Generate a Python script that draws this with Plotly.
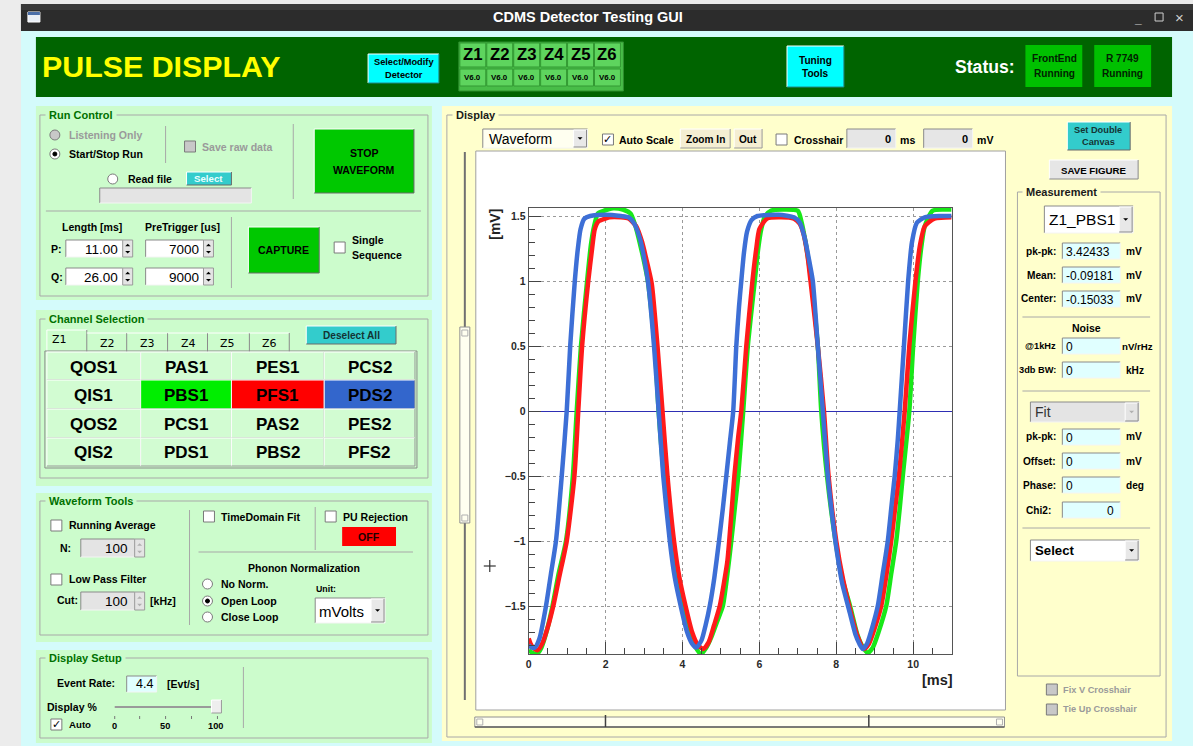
import plotly.graph_objects as go

W, H = 1193, 746

# ---------------- data ----------------
blue_t = [0.00, 0.08, 0.16, 0.28, 0.45, 0.58, 0.71, 0.86, 0.99, 1.08, 1.20, 1.28, 1.35, 1.45, 1.60, 2.00, 2.40, 2.60,
          2.75, 2.90, 3.00, 3.11, 3.26, 3.38, 3.50, 3.67, 3.80, 3.97, 4.12, 4.25, 4.36, 4.50, 4.60, 4.71, 4.83, 4.95,
          5.05, 5.14, 5.23, 5.32, 5.40, 5.47, 5.53, 5.60, 5.68, 5.80, 5.95, 6.50, 6.90, 7.05, 7.18, 7.30, 7.39, 7.52,
          7.65, 7.78, 7.90, 8.00, 8.15, 8.35, 8.50, 8.60, 8.69, 8.80, 8.95, 9.08, 9.20, 9.34, 9.44, 9.52, 9.60, 9.65,
          9.76, 9.87, 9.97, 10.10, 10.30, 10.70, 11.00]
blue_v = [-1.80, -1.82, -1.82, -1.75, -1.50, -1.25, -1.00, -0.50, 0.00, 0.50, 1.00, 1.25, 1.40, 1.48, 1.50, 1.51, 1.50,
          1.49, 1.44, 1.32, 1.18, 0.98, 0.50, 0.00, -0.50, -1.00, -1.28, -1.52, -1.70, -1.79, -1.82, -1.76, -1.65,
          -1.50, -1.28, -1.00, -0.75, -0.50, -0.25, 0.00, 0.50, 0.80, 1.00, 1.22, 1.38, 1.47, 1.50, 1.51, 1.49, 1.45,
          1.33, 1.15, 1.00, 0.50, 0.00, -0.50, -0.82, -1.05, -1.32, -1.55, -1.72, -1.79, -1.83, -1.79, -1.65, -1.50,
          -1.27, -1.00, -0.72, -0.50, -0.22, 0.00, 0.50, 1.00, 1.30, 1.45, 1.49, 1.50, 1.50]

red_t = [0.00, 0.05, 0.12, 0.23, 0.35, 0.50, 0.64, 0.80, 0.99, 1.19, 1.29, 1.39, 1.55, 1.65, 1.72, 1.82, 1.90, 2.10,
         2.40, 2.60, 2.80, 2.95, 3.05, 3.20, 3.35, 3.48, 3.61, 3.78, 3.92, 4.08, 4.25, 4.40, 4.54, 4.68, 4.82, 4.97,
         5.08, 5.17, 5.27, 5.35, 5.45, 5.53, 5.66, 5.82, 5.92, 6.00, 6.20, 6.50, 6.90, 7.05, 7.15, 7.25, 7.33, 7.52,
         7.68, 7.80, 8.00, 8.18, 8.38, 8.55, 8.72, 8.85, 9.00, 9.17, 9.30, 9.43, 9.53, 9.63, 9.78, 9.90, 10.06, 10.18,
         10.30, 10.55, 11.00]
red_v = [-1.75, -1.79, -1.82, -1.84, -1.79, -1.66, -1.50, -1.27, -1.00, -0.50, 0.00, 0.50, 1.00, 1.25, 1.40, 1.46, 1.47,
         1.49, 1.49, 1.48, 1.42, 1.30, 1.18, 0.98, 0.50, 0.00, -0.50, -1.00, -1.28, -1.50, -1.70, -1.80, -1.83, -1.78,
         -1.65, -1.50, -1.32, -1.15, -0.80, -0.50, -0.20, 0.00, 0.50, 1.00, 1.25, 1.40, 1.48, 1.49, 1.48, 1.44, 1.36,
         1.20, 1.00, 0.50, 0.00, -0.50, -1.00, -1.30, -1.55, -1.73, -1.83, -1.79, -1.67, -1.50, -1.27, -1.00, -0.75,
         -0.50, 0.00, 0.50, 1.00, 1.28, 1.42, 1.48, 1.49]

green_t = [0.00, 0.10, 0.21, 0.33, 0.48, 0.62, 0.78, 0.97, 1.15, 1.25, 1.36, 1.52, 1.62, 1.70, 1.80, 1.95, 2.20, 2.45,
           2.65, 2.78, 2.90, 3.00, 3.10, 3.28, 3.38, 3.52, 3.72, 3.87, 4.03, 4.18, 4.33, 4.48, 4.62, 4.75, 4.90, 5.05,
           5.17, 5.27, 5.37, 5.45, 5.58, 5.70, 5.88, 5.97, 6.05, 6.15, 6.30, 6.60, 7.00, 7.10, 7.20, 7.28, 7.35, 7.52,
           7.61, 7.76, 7.98, 8.15, 8.36, 8.55, 8.70, 8.82, 8.95, 9.10, 9.30, 9.43, 9.56, 9.65, 9.73, 9.90, 10.00, 10.12,
           10.22, 10.30, 10.50, 10.80, 11.00]
green_v = [-1.84, -1.86, -1.87, -1.82, -1.68, -1.50, -1.25, -1.00, -0.50, 0.00, 0.50, 1.00, 1.28, 1.42, 1.52, 1.54,
           1.56, 1.55, 1.52, 1.42, 1.28, 1.15, 1.00, 0.50, 0.00, -0.50, -1.00, -1.28, -1.50, -1.70, -1.81, -1.87, -1.82,
           -1.74, -1.62, -1.50, -1.25, -1.00, -0.72, -0.50, 0.00, 0.50, 1.00, 1.25, 1.40, 1.50, 1.54, 1.55, 1.54, 1.45,
           1.30, 1.15, 1.00, 0.50, 0.00, -0.50, -1.00, -1.28, -1.50, -1.72, -1.82, -1.86, -1.82, -1.70, -1.50, -1.25,
           -1.00, -0.75, -0.50, 0.00, 0.50, 1.00, 1.28, 1.42, 1.54, 1.55, 1.55]

x_ticks = [0, 2, 4, 6, 8, 10]
y_ticks = [-1.5, -1, -0.5, 0, 0.5, 1, 1.5]
x_range = [0, 11]
y_range = [-1.869, 1.5615]

channel_rows = [["QOS1", "PAS1", "PES1", "PCS2"],
                ["QIS1", "PBS1", "PFS1", "PDS2"],
                ["QOS2", "PCS1", "PAS2", "PES2"],
                ["QIS2", "PDS1", "PBS2", "PFS2"]]
channel_colors = {"PBS1": "#00ee00", "PFS1": "#ff0000", "PDS2": "#3366cc"}
zone_tabs = ["Z1", "Z2", "Z3", "Z4", "Z5", "Z6"]
measure_labels = ["pk-pk:", "Mean:", "Center:"]
measure_values = ["3.42433", "-0.09181", "-0.15033"]
fit_labels = ["pk-pk:", "Offset:", "Phase:"]
fit_values = ["0", "0", "0"]
fit_units = ["mV", "mV", "deg"]

# ---------------- helpers (pixel -> paper) ----------------
NARROW = "NARROW"
SANS = "Liberation Sans, Arial, sans-serif"
NARROW_SCALE = 0.88
CYAN_BG = "#d4fbfb"
GREEN_P = "#ccfccc"
YELLOW_P = "#ffffcc"
GROUPLINE = "#a8a8a8"

shapes, annos = [], []


def X(x):
    return x / W


def Y(y):
    return 1 - y / H


def rect(x0, y0, x1, y1, fill=None, line=None, lw=1):
    shapes.append(dict(type="rect", xref="paper", yref="paper", x0=X(x0), x1=X(x1), y0=Y(y1), y1=Y(y0),
                       fillcolor=fill if fill else "rgba(0,0,0,0)",
                       line=dict(color=line if line else "rgba(0,0,0,0)", width=lw if line else 0),
                       layer="below"))


def seg(x0, y0, x1, y1, color=GROUPLINE, lw=1):
    shapes.append(dict(type="line", xref="paper", yref="paper", x0=X(x0), x1=X(x1), y0=Y(y0), y1=Y(y1),
                       line=dict(color=color, width=lw), layer="below"))


def circ(cx, cy, r, fill, line="#808080"):
    shapes.append(dict(type="circle", xref="paper", yref="paper", x0=X(cx - r), x1=X(cx + r), y0=Y(cy + r),
                       y1=Y(cy - r), fillcolor=fill, line=dict(color=line, width=1), layer="below"))


def tri(cx, cy, s=3, up=False, color="#000000"):
    if up:
        p = f"M {X(cx - s)} {Y(cy + s / 2)} L {X(cx + s)} {Y(cy + s / 2)} L {X(cx)} {Y(cy - s / 2)} Z"
    else:
        p = f"M {X(cx - s)} {Y(cy - s / 2)} L {X(cx + s)} {Y(cy - s / 2)} L {X(cx)} {Y(cy + s / 2)} Z"
    shapes.append(dict(type="path", xref="paper", yref="paper", path=p, fillcolor=color,
                       line=dict(color=color, width=0), layer="below"))


def txt(x, y, s, size=12, color="#000000", anchor="left", bold=True, family=NARROW, bg=None, angle=0):
    if family == NARROW:
        family = SANS
        size = size * NARROW_SCALE
    a = dict(x=X(x), y=Y(y), xref="paper", yref="paper", text=s, showarrow=False, xanchor=anchor,
             yanchor="middle", textangle=angle, borderpad=0,
             font=dict(size=size, color=color, family=family, weight="bold" if bold else "normal"))
    if bg:
        a["bgcolor"] = bg
    annos.append(a)


def button(x0, y0, x1, y1, fill, edge_dark="#6a6a6a"):
    rect(x0, y0, x1, y1, fill)
    seg(x0, y0, x1, y0, "#ffffff", 1)
    seg(x0, y0, x0, y1, "#ffffff", 1)
    seg(x0, y1, x1, y1, edge_dark, 1)
    seg(x1, y0, x1, y1, edge_dark, 1)


def field(x0, y0, x1, y1, fill="#ffffff"):
    rect(x0, y0, x1, y1, fill)
    seg(x0, y0, x1, y0, "#8a8a8a", 1)
    seg(x0, y0, x0, y1, "#8a8a8a", 1)
    seg(x0, y1, x1, y1, "#f4f4f4", 1)
    seg(x1, y0, x1, y1, "#f4f4f4", 1)


def checkbox(x, y, checked=False, disabled=False):
    rect(x, y, x + 11, y + 11, "#c8c8c8" if disabled else "#ffffff", "#7a7a7a")
    if checked:
        txt(x + 5.5, y + 5.5, "✓", 11, "#000000", "center", True, "DejaVu Sans")


def radio(cx, cy, sel=False, disabled=False):
    circ(cx, cy, 5, "#c8c8c8" if disabled else "#ffffff", "#7a7a7a")
    if sel:
        circ(cx, cy, 2, "#000000", "#000000")


def spinner(x0, y0, x1, y1, color="#000000"):
    rect(x0, y0, x1, y1, "#e4e4e4", "#9a9a9a")
    cx = (x0 + x1) / 2
    tri(cx, y0 + (y1 - y0) * 0.3, 2.5, True, color)
    tri(cx, y0 + (y1 - y0) * 0.72, 2.5, False, color)


def group(x0, y0, x1, y1, title, bg):
    rect(x0, y0, x1, y1, None, GROUPLINE, 1)
    txt(x0 + 5, y0, " " + title + " ", 12.5, "#007000" if bg == GREEN_P else "#1a1a1a", "left", True, NARROW, bg)


def dropdown(x0, y0, x1, y1, fill, arrow_fill="#e8e8e8", arrow_col="#000000"):
    field(x0, y0, x1, y1, fill)
    button(x1 - 14, y0 + 1, x1 - 1, y1 - 1, arrow_fill, "#8a8a8a")
    tri(x1 - 7.5, (y0 + y1) / 2, 2.5, False, arrow_col)


# ---------------- window chrome ----------------
rect(0, 0, W, H, "#ececec")
rect(18, 4, W, 31, "#2c2c2c")
rect(18, 4, W, 10, "#3a3a3a")
rect(18, 31, W, H, CYAN_BG)
rect(25, 12, 37, 22, "#e8eef6", "#ffffff")
rect(25, 12, 37, 15, "#4a6ea8")
txt(586, 17, "CDMS Detector Testing GUI", 14.5, "#ffffff", "center", True, SANS)
txt(1138, 19, "_", 12, "#cfcfcf", "center", True, SANS)
rect(1155, 13, 1163, 21, None, "#cfcfcf", 1)
txt(1179, 17, "×", 15, "#cfcfcf", "center", False, SANS)

# ---------------- header ----------------
rect(33, 37, 1172, 97, "#006400")
txt(38, 67, "PULSE DISPLAY", 34.5, "#ffff00", "left", True, NARROW)
button(366, 54, 437, 83, "#00ffff", "#208a8a")
txt(402, 62, "Select/Modify", 10.5, "#000000", "center")
txt(402, 75, "Detector", 10.5, "#000000", "center")
rect(457, 42, 622, 91, "#48bd48", "#2f8f2f")
for i, z in enumerate(zone_tabs):
    x0 = 458 + 27 * i
    rect(x0, 43, x0 + 26, 67, "#5ed45e", "#339933")
    txt(x0 + 13, 55, z, 19, "#000000", "center", True, NARROW)
    rect(x0, 69, x0 + 26, 86, "#5ed45e", "#339933")
    txt(x0 + 13, 78, "V6.0", 9, "#000000", "center", True, NARROW)
button(786, 46, 843, 87, "#00ffff", "#208a8a")
txt(815, 60, "Tuning", 11.5, "#000000", "center")
txt(815, 74, "Tools", 11.5, "#000000", "center")
txt(1016, 67, "Status:", 20, "#ffffff", "right", True, NARROW)
rect(1025, 45, 1082, 87, "#00c000")
txt(1054, 59, "FrontEnd", 11.5, "#002200", "center")
txt(1054, 74, "Running", 11.5, "#002200", "center")
rect(1094, 45, 1151, 87, "#00c000")
txt(1122, 59, "R 7749", 11.5, "#002200", "center")
txt(1122, 74, "Running", 11.5, "#002200", "center")

# ---------------- Run Control ----------------
rect(33, 106, 430, 300, GREEN_P)
group(37, 115, 426, 296, "Run Control", GREEN_P)
radio(52, 135, False, True)
txt(65, 135, "Listening Only", 12, "#9a9a9a")
radio(52, 154, True)
txt(65, 154, "Start/Stop Run", 12)
seg(163, 126, 163, 163)
checkbox(182, 141, False, True)
txt(199, 147, "Save raw data", 12, "#9a9a9a")
seg(291, 124, 291, 199)
button(312, 129, 412, 193, "#00c800")
txt(362, 153, "STOP", 12, "#000000", "center")
txt(362, 170, "WAVEFORM", 12, "#000000", "center")
radio(110, 179)
txt(124, 179, "Read file", 12)
button(184, 172, 229, 185, "#33cccc")
txt(206, 178.5, "Select", 11, "#eaffff", "center")
field(97, 188, 249, 203, "#e4e4e4")
seg(43, 211, 419, 211)
txt(89, 227, "Length [ms]", 12, "#000000", "center")
txt(180, 227, "PreTrigger [us]", 12, "#000000", "center")
for yy, lab, v1, v2 in [(240, "P:", "11.00", "7000"), (268, "Q:", "26.00", "9000")]:
    txt(47, yy + 9, lab, 12)
    field(63, yy, 120, yy + 17)
    txt(116, yy + 9, v1, 13.5, "#000000", "right", False, SANS)
    spinner(120, yy, 130, yy + 17)
    field(143, yy, 201, yy + 17)
    txt(197, yy + 9, v2, 13.5, "#000000", "right", False, SANS)
    spinner(201, yy, 211, yy + 17)
seg(229, 217, 229, 288)
button(246, 227, 317, 273, "#00c800")
txt(281, 250, "CAPTURE", 12, "#000000", "center")
checkbox(332, 242)
txt(349, 240, "Single", 12)
txt(349, 255, "Sequence", 12)

# ---------------- Channel Selection ----------------
rect(33, 310, 430, 486, GREEN_P)
group(37, 319, 426, 478, "Channel Selection", GREEN_P)
tab_x = [44, 84, 124, 165, 205, 247, 287]
for i, z in enumerate(zone_tabs):
    x0, x1 = tab_x[i], tab_x[i + 1]
    if i == 0:
        rect(x0, 330, x1, 352, GREEN_P)
        seg(x0, 330, x1, 330, "#ffffff")
        seg(x0, 330, x0, 352, "#ffffff")
        seg(x1, 330, x1, 352, "#8a8a8a")
        txt(x0 + 4, 339, z, 11, "#000000", "left", False, "DejaVu Sans")
    else:
        seg(x0, 333, x1, 333, "#ffffff")
        seg(x1, 333, x1, 352, "#8a8a8a")
        txt(x0 + 12, 343, z, 11, "#000000", "left", False, "DejaVu Sans")
button(304, 326, 394, 344, "#33cccc")
txt(349, 335, "Deselect All", 11.5, "#143434", "center")
col_x = [44, 138, 229, 322, 413]
row_y = [352, 380, 409, 438, 466]
rect(42, 351, 415, 468, None, "#8a8a8a")
for r, row in enumerate(channel_rows):
    for c, name in enumerate(row):
        x0, x1, y0, y1 = col_x[c], col_x[c + 1], row_y[r], row_y[r + 1]
        button(x0, y0, x1, y1, channel_colors.get(name, "#d2fcd2"), "#9a9a9a")
        txt((x0 + x1) / 2, (y0 + y1) / 2 + 1, name, 17, "#000000", "center", True, SANS)

# ---------------- Waveform Tools ----------------
rect(33, 493, 430, 642, GREEN_P)
group(37, 501, 426, 635, "Waveform Tools", GREEN_P)
checkbox(48, 520)
txt(65, 525, "Running Average", 12)
txt(56, 548, "N:", 12)
field(78, 539, 132, 557, "#e4e4e4")
txt(126, 548, "100", 13.5, "#000000", "right", False, SANS)
spinner(132, 539, 142, 557, "#b0b0b0")
checkbox(48, 574)
txt(65, 579, "Low Pass Filter", 12)
txt(53, 600, "Cut:", 12)
field(78, 592, 132, 610, "#e4e4e4")
txt(126, 601, "100", 13.5, "#000000", "right", False, SANS)
spinner(132, 592, 142, 610, "#b0b0b0")
txt(146, 601, "[kHz]", 12)
seg(187, 510, 187, 625)
checkbox(201, 511)
txt(218, 517, "TimeDomain Fit", 12)
seg(313, 507, 313, 550)
checkbox(323, 511)
txt(340, 517, "PU Rejection", 12)
rect(340, 527, 394, 546, "#ff0000")
txt(367, 536.5, "OFF", 12, "#200000", "center")
seg(196, 552, 411, 552)
txt(302, 568, "Phonon Normalization", 12, "#000000", "center")
radio(205, 584)
txt(218, 584, "No Norm.", 12)
radio(205, 601, True)
txt(218, 601, "Open Loop", 12)
radio(205, 617)
txt(218, 617, "Close Loop", 12)
txt(313, 589, "Unit:", 10)
dropdown(313, 598, 383, 623, "#ffffff")
txt(316, 611, "mVolts", 15, "#000000", "left", False, SANS)

# ---------------- Display Setup ----------------
rect(33, 650, 430, 743, GREEN_P)
group(37, 658, 426, 738, "Display Setup", GREEN_P)
txt(53, 683, "Event Rate:", 12)
field(124, 676, 154, 692, "#e0ffff")
txt(151, 684, "4.4", 12.5, "#000000", "right", False, SANS)
txt(163, 684, "[Evt/s]", 12)
txt(43, 707, "Display %", 12)
seg(112, 707, 213, 707, "#9a9a9a", 2)
button(209, 700, 219, 713, "#eeeeee", "#9a9a9a")
for tx in [112, 137, 163, 189, 215]:
    seg(tx, 716, tx, 719, "#777777")
for tx, lab in [(112, "0"), (162, "50"), (213, "100")]:
    txt(tx, 726, lab, 10.5, "#000000", "center")
checkbox(48, 719, True)
txt(65, 724, "Auto", 11)
seg(241, 667, 241, 728)

# ---------------- Display panel ----------------
rect(440, 106, 1172, 741, YELLOW_P)
group(445, 115, 1166, 737, "Display", YELLOW_P)
dropdown(481, 129, 586, 148, "#fffff0")
txt(486, 139, "Waveform", 14, "#000000", "left", False, SANS)
checkbox(601, 134, True)
txt(617, 140, "Auto Scale", 12)
button(679, 129, 729, 148, "#f4eed2", "#9a9a9a")
txt(704, 139, "Zoom In", 11.5, "#000000", "center")
button(733, 129, 761, 148, "#f4eed2", "#9a9a9a")
txt(747, 139, "Out", 11.5, "#000000", "center")
checkbox(775, 134)
txt(792, 140, "Crosshair", 12)
field(846, 129, 895, 148, "#e6e6e6")
txt(891, 139, "0", 12.5, "#000000", "right")
txt(898, 140, "ms", 12)
field(923, 129, 972, 148, "#e6e6e6")
txt(968, 139, "0", 12.5, "#000000", "right")
txt(975, 140, "mV", 12)

# canvas
rect(474, 151, 1005, 710, "#ffffff", "#a0a0a0")
seg(463, 152, 463, 700, "#707070", 2)
rect(458, 327, 468, 523, "#fffff0", "#909090")
rect(460, 330, 466, 336, None, "#b0b0b0")
rect(460, 515, 466, 521, None, "#b0b0b0")
rect(473, 717, 1004, 727, "#fffff0", "#909090")
seg(473, 727, 1004, 727, "#606060", 1.5)
seg(604, 715, 604, 727, "#404040", 1.5)
seg(868, 715, 868, 727, "#404040", 1.5)
rect(475, 719, 481, 725, None, "#b0b0b0")
rect(996, 719, 1002, 725, None, "#b0b0b0")
seg(482, 566, 494, 566, "#333333", 1.2)
seg(488, 560, 488, 572, "#333333", 1.2)
txt(493, 224, "[mV]", 14, "#222222", "center", True, SANS, None, -90)
txt(937, 680, "[ms]", 14.5, "#222222", "center", True, SANS)

# right side
button(1067, 122, 1130, 150, "#33cccc")
txt(1098, 130, "Set Double", 10.5, "#143434", "center")
txt(1098, 142, "Canvas", 10.5, "#143434", "center")
button(1049, 160, 1138, 179, "#e6e6e6", "#8a8a8a")
txt(1093, 170, "SAVE FIGURE", 11, "#000000", "center")
group(1017, 192, 1160, 676, "Measurement", YELLOW_P)
dropdown(1044, 206, 1133, 233, "#ffffff")
txt(1048, 220, "Z1_PBS1", 15.5, "#000000", "left", False, SANS)
for i, (lab, val) in enumerate(zip(measure_labels, measure_values)):
    yy = 251 + 24 * i
    txt(1057, yy, lab, 11.5, "#000000", "right")
    field(1062, yy - 8, 1120, yy + 8, "#e0ffff")
    txt(1065, yy + 1, val, 12, "#000000", "left", False, SANS)
    txt(1125, yy, "mV", 11.5)
seg(1022, 317, 1150, 317)
txt(1086, 328, "Noise", 12, "#000000", "center")
txt(1057, 346, "@1kHz", 10.5, "#000000", "right")
field(1062, 338, 1120, 354, "#e0ffff")
txt(1065, 347, "0", 12, "#000000", "left", False, SANS)
txt(1121, 346, "nV/rHz", 11)
txt(1057, 370, "3db BW:", 10.5, "#000000", "right")
field(1062, 362, 1120, 378, "#e0ffff")
txt(1065, 371, "0", 12, "#000000", "left", False, SANS)
txt(1125, 370, "kHz", 11.5)
seg(1022, 391, 1150, 391)
dropdown(1030, 402, 1139, 422, "#e4e4e4", "#e4e4e4", "#b0b0b0")
txt(1034, 412, "Fit", 14, "#333333", "left", False, SANS)
for i, (lab, val, unit) in enumerate(zip(fit_labels, fit_values, fit_units)):
    yy = 437 + 24 * i
    txt(1057, yy, lab, 11.5, "#000000", "right")
    field(1062, yy - 8, 1120, yy + 8, "#e0ffff")
    txt(1065, yy + 1, val, 12, "#000000", "left", False, SANS)
    txt(1125, yy, unit, 11.5)
txt(1052, 510, "Chi2:", 11.5, "#000000", "right")
field(1062, 502, 1120, 518, "#e0ffff")
txt(1115, 511, "0", 12, "#000000", "right", False, SANS)
seg(1022, 528, 1150, 528)
dropdown(1030, 540, 1139, 561, "#ffffff")
txt(1034, 550, "Select", 15, "#000000", "left", True, NARROW)
checkbox(1046, 684, False, True)
txt(1062, 690, "Fix V Crosshair", 10.5, "#9a9a9a")
checkbox(1046, 704, False, True)
txt(1062, 709, "Tie Up Crosshair", 10.5, "#9a9a9a")

# ---------------- traces ----------------
fig = go.Figure()
for tt, vv, col in [(green_t, green_v, "#18e818"), (red_t, red_v, "#ff1a1a"), (blue_t, blue_v, "#3d6fd6")]:
    fig.add_trace(go.Scatter(x=tt, y=vv, mode="lines", line=dict(color=col, width=4.5, shape="spline", smoothing=0.6),
                             hoverinfo="skip"))

tickfont = dict(size=10.5, family=SANS, color="#2a2a2a", weight="bold")
fig.update_layout(
    width=W, height=H, margin=dict(l=0, r=0, t=0, b=0), autosize=False,
    paper_bgcolor="#ececec", plot_bgcolor="#ffffff", showlegend=False,
    shapes=shapes, annotations=annos,
    xaxis=dict(domain=[X(527), X(951)], range=x_range, tickmode="array", tickvals=x_ticks,
               ticks="inside", ticklen=12, tickwidth=1, tickcolor="#444444", tickfont=tickfont,
               showgrid=True, gridcolor="#9a9a9a", griddash="dot", gridwidth=1,
               showline=True, linecolor="#555555", linewidth=1, mirror=True, zeroline=False,
               minor=dict(tickmode="linear", tick0=0, dtick=0.5, ticks="inside", ticklen=6,
                          tickcolor="#444444", showgrid=False), fixedrange=True),
    yaxis=dict(domain=[Y(654), Y(208)], range=y_range, tickmode="array", tickvals=y_ticks,
               ticks="inside", ticklen=12, tickwidth=1, tickcolor="#444444", tickfont=tickfont,
               showgrid=True, gridcolor="#9a9a9a", griddash="dot", gridwidth=1,
               showline=True, linecolor="#555555", linewidth=1, mirror=True,
               zeroline=True, zerolinecolor="#2e2eb4", zerolinewidth=1.4,
               minor=dict(tickmode="linear", tick0=0, dtick=0.1, ticks="inside", ticklen=6,
                          tickcolor="#444444", showgrid=False), fixedrange=True),
)

fig.write_html("out.html", config={"displayModeBar": False},
               post_script="document.body.style.margin='0';document.body.style.overflow='hidden';")
